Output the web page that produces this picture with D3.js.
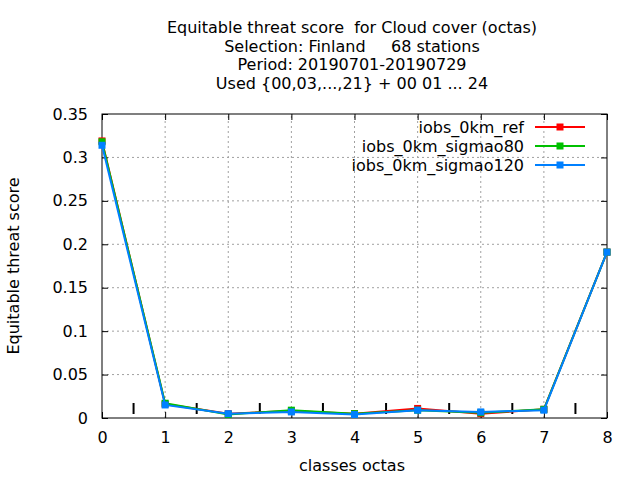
<!DOCTYPE html>
<html>
<head>
<meta charset="utf-8">
<script src="https://cdn.jsdelivr.net/npm/d3@7"></script>
<style>
  body { margin: 0; background: #fff; }
  text { font-family: "DejaVu Sans", sans-serif; }
</style>
</head>
<body>
<svg id="chart" width="640" height="480"></svg>
<script>
const classes = [0, 1, 2, 3, 4, 5, 6, 7, 8];
const refVals = [0.319, 0.016, 0.005, 0.008, 0.005, 0.011, 0.005, 0.010, 0.191];
const sig80Vals = [0.318, 0.017, 0.004, 0.009, 0.005, 0.009, 0.006, 0.010, 0.191];
const sig120Vals = [0.314, 0.015, 0.005, 0.007, 0.004, 0.009, 0.007, 0.009, 0.191];
const seriesNames = ["iobs_0km_ref", "iobs_0km_sigmao80", "iobs_0km_sigmao120"];
const seriesColors = ["#ff0000", "#00c000", "#0080ff"];
const boundaries = [0.5, 1.5, 2.5, 3.5, 4.5, 5.5, 6.5, 7.5];
const yTicks = [0, 0.05, 0.1, 0.15, 0.2, 0.25, 0.3, 0.35];
const titleLines = [
  "Equitable threat score  for Cloud cover (octas)",
  "Selection: Finland     68 stations",
  "Period: 20190701-20190729",
  "Used {00,03,...,21} + 00 01 ... 24"
];

const margin = { top: 114, right: 33, bottom: 62, left: 102 };
const width = 640, height = 480;
const fs = 16;
const svg = d3.select("#chart");

const x = d3.scaleLinear().domain([0, 8]).range([margin.left, width - margin.right]);
const y = d3.scaleLinear().domain([0, 0.35]).range([height - margin.bottom, margin.top]);

// grid
svg.append("g").selectAll("line").data(classes.slice(1, -1)).join("line")
    .attr("x1", d => x(d)).attr("x2", d => x(d))
    .attr("y1", y(0)).attr("y2", y(0.35))
    .attr("stroke", "#a0a0a0").attr("stroke-dasharray", "2,3");
svg.append("g").selectAll("line").data(yTicks.slice(1, -1)).join("line")
    .attr("x1", x(0)).attr("x2", x(8))
    .attr("y1", d => y(d)).attr("y2", d => y(d))
    .attr("stroke", "#a0a0a0").attr("stroke-dasharray", "2,3");

// axes with inward ticks, mirrored
svg.append("g").attr("transform", `translate(0,${y(0)})`)
    .call(d3.axisBottom(x).tickValues(classes).tickSize(-6).tickPadding(14).tickFormat(d3.format("d")))
    .call(g => g.select(".domain").remove());
svg.append("g").attr("transform", `translate(0,${y(0.35)})`)
    .call(d3.axisTop(x).tickValues(classes).tickSize(-6).tickFormat(""))
    .call(g => g.select(".domain").remove());
svg.append("g").attr("transform", `translate(${x(0)},0)`)
    .call(d3.axisLeft(y).tickValues(yTicks).tickSize(-6).tickPadding(14).tickFormat(d => d === 0 ? "0" : d3.format("")(+d.toFixed(2))))
    .call(g => g.select(".domain").remove());
svg.append("g").attr("transform", `translate(${x(8)},0)`)
    .call(d3.axisRight(y).tickValues(yTicks).tickSize(-6).tickFormat(""))
    .call(g => g.select(".domain").remove());
svg.selectAll(".tick text").attr("font-size", fs).attr("fill", "#000")
    .style("font-family", "DejaVu Sans, sans-serif");
svg.selectAll(".tick line").attr("stroke", "#000");

svg.append("rect")
    .attr("x", x(0)).attr("y", y(0.35))
    .attr("width", x(8) - x(0)).attr("height", y(0) - y(0.35))
    .attr("fill", "none").attr("stroke", "#000");

// class boundary markers
svg.append("g").selectAll("line").data(boundaries).join("line")
    .attr("x1", d => x(d)).attr("x2", d => x(d))
    .attr("y1", y(0) - 15).attr("y2", y(0) - 4)
    .attr("stroke", "#000").attr("stroke-width", 2);

// series
const allSeries = [refVals, sig80Vals, sig120Vals];
const line = d3.line().x((d, i) => x(classes[i])).y(d => y(d));
allSeries.forEach((vals, s) => {
  svg.append("path").datum(vals)
      .attr("d", line).attr("fill", "none")
      .attr("stroke", seriesColors[s]).attr("stroke-width", 2);
  svg.append("g").selectAll("rect").data(vals).join("rect")
      .attr("x", (d, i) => x(classes[i]) - 3.5).attr("y", d => y(d) - 3.5)
      .attr("width", 7).attr("height", 7)
      .attr("fill", seriesColors[s]);
});

// legend
const legend = svg.append("g");
seriesNames.forEach((name, s) => {
  const ly = 127 + s * 19;
  legend.append("text").attr("x", 524).attr("y", ly + 6)
      .attr("text-anchor", "end").attr("font-size", fs).text(name);
  legend.append("line").attr("x1", 535).attr("x2", 585)
      .attr("y1", ly).attr("y2", ly)
      .attr("stroke", seriesColors[s]).attr("stroke-width", 2);
  legend.append("rect").attr("x", 556.5).attr("y", ly - 3.5)
      .attr("width", 7).attr("height", 7).attr("fill", seriesColors[s]);
});

// titles
svg.append("g").selectAll("text").data(titleLines).join("text")
    .attr("x", 352).attr("y", (d, i) => 33 + i * 18.5)
    .attr("text-anchor", "middle").attr("font-size", fs)
    .style("white-space", "pre").text(d => d);

svg.append("text").attr("x", 352).attr("y", 471)
    .attr("text-anchor", "middle").attr("font-size", fs).text("classes octas");
svg.append("text")
    .attr("transform", `translate(19,${(y(0) + y(0.35)) / 2}) rotate(-90)`)
    .attr("text-anchor", "middle").attr("font-size", fs).text("Equitable threat score");
</script>
</body>
</html>
